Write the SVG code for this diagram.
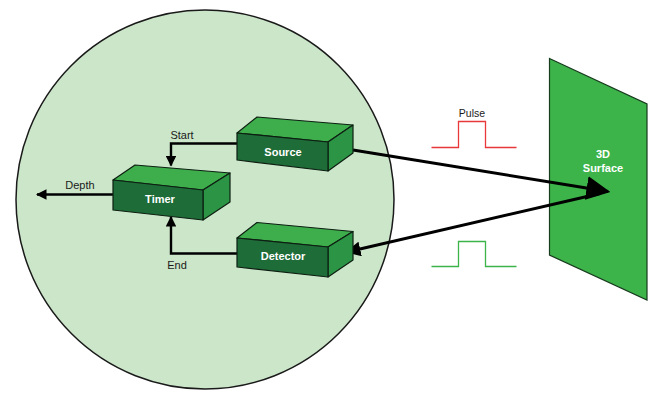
<svg xmlns="http://www.w3.org/2000/svg" width="650" height="401" viewBox="0 0 650 401">
<defs>
<style>
.lbl{font-family:"Liberation Sans",Arial,sans-serif;font-size:11px;fill:#1a1a1a;text-anchor:middle}
.blbl{font-family:"Liberation Sans",Arial,sans-serif;font-size:11px;font-weight:bold;fill:#ffffff;text-anchor:middle}
.front{fill:#1e6c38;stroke:#0d1f12;stroke-width:1.2;stroke-linejoin:round}
.top{fill:#3dae4b;stroke:#0d1f12;stroke-width:1.2;stroke-linejoin:round}
.side{fill:#2c9545;stroke:#0d1f12;stroke-width:1.2;stroke-linejoin:round}
.link{fill:none;stroke:#000;stroke-width:2.4}
.beam{fill:none;stroke:#000;stroke-width:3}
</style>
<marker id="ah" viewBox="0 0 10 10" refX="9" refY="5" markerWidth="4.4" markerHeight="4.4" orient="auto" markerUnits="strokeWidth">
<path d="M0,0 L10,5 L0,10 z" fill="#000"/>
</marker>
<marker id="bh" viewBox="0 0 10 10" refX="9" refY="5" markerWidth="8" markerHeight="8" orient="auto" markerUnits="strokeWidth">
<path d="M0,0 L10,5 L0,10 z" fill="#000"/>
</marker>
<marker id="dh" viewBox="0 0 10 10" refX="9" refY="5" markerWidth="5" markerHeight="5" orient="auto" markerUnits="strokeWidth">
<path d="M0,0 L10,5 L0,10 z" fill="#000"/>
</marker>
</defs>
<rect width="650" height="401" fill="#ffffff"/>
<ellipse id="scanner" cx="205" cy="199.5" rx="189" ry="189.5" fill="#cce6c9" stroke="#1a1a1a" stroke-width="1.5"/>

<g id="surface">
<polygon points="549.5,58.5 647,104 647,300 549.5,255" fill="#3cb44a" stroke="#173b1d" stroke-width="1.2"/>
<text class="blbl" x="603" y="158">3D</text>
<text class="blbl" x="603" y="172">Surface</text>
</g>

<g id="pulse-out">
<polyline points="431.5,147.5 458.5,147.5 458.5,121.5 485.5,121.5 485.5,147.5 516.5,147.5" fill="none" stroke="#e8383a" stroke-width="1.3"/>
<text class="lbl" x="472" y="117" style="font-size:10.5px">Pulse</text>
</g>
<g id="pulse-in">
<polyline points="431.5,266.5 458.5,266.5 458.5,241.5 485.5,241.5 485.5,266.5 516.5,266.5" fill="none" stroke="#3cb44a" stroke-width="1.3"/>
</g>

<g id="connectors">
<polyline class="link" points="237,143.5 171,143.5 171,165.5" marker-end="url(#ah)"/>
<polyline class="link" points="237,253.5 171,253.5 171,217" marker-end="url(#ah)"/>
<line class="link" x1="113" y1="194.5" x2="37" y2="194.5" marker-end="url(#ah)"/>
<line class="beam" x1="353" y1="150" x2="608" y2="191.5" marker-end="url(#bh)"/>
<line class="beam" x1="600" y1="193.5" x2="347" y2="252" marker-end="url(#dh)"/>
<text class="lbl" x="182" y="138.5">Start</text>
<text class="lbl" x="177" y="268.5">End</text>
<text class="lbl" x="80" y="189">Depth</text>
</g>

<g id="source">
<polygon class="top" points="237,133 257,117 353,125 328,142"/>
<polygon class="side" points="328,142 353,125 353,153 328,171"/>
<polygon class="front" points="237,133 328,142 328,171 237,160"/>
<text class="blbl" x="283" y="155.5">Source</text>
</g>

<g id="timer">
<polygon class="top" points="113,180 135,165 230,173 203,190"/>
<polygon class="side" points="203,190 230,173 230,202 203,220"/>
<polygon class="front" points="113,180 203,190 203,220 113,210"/>
<text class="blbl" x="160" y="203">Timer</text>
</g>

<g id="detector">
<polygon class="top" points="237,238 257,222.5 353,231.5 328,247"/>
<polygon class="side" points="328,247 353,231.5 353,260 328,277"/>
<polygon class="front" points="237,238 328,247 328,277 237,267"/>
<text class="blbl" x="283" y="259.5">Detector</text>
</g>
</svg>
